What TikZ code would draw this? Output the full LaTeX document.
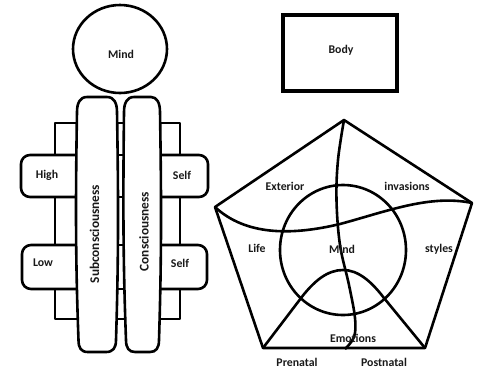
\documentclass[tikz,border=0pt]{standalone}
\usepackage{fontspec}
\setmainfont{Carlito}
\begin{document}
\begin{tikzpicture}[x=1pt,y=-1pt,
  ln/.style={line width=2.6pt,line join=round},
  lbl/.style={font=\bfseries\fontsize{11.8}{12}\selectfont,inner sep=0pt,text=black!90},
  vlbl/.style={font=\bfseries\fontsize{13.3}{14}\selectfont,inner sep=0pt,rotate=90,text=black!90}]
\useasboundingbox (0,0) rectangle (477,368);
% ---------- left figure ----------
\draw[ln] (120,49) ellipse [x radius=47,y radius=44];
\node[lbl] (mindtop) at (121,54) {Mind};
% background frame
\draw[ln] (55,123) rectangle (180,319);
\foreach \yy in {155,197,245,289} \draw[ln] (55,\yy) -- (180,\yy);
% side boxes
\draw[ln,fill=white,rounded corners=9pt] (90,155) -- (21,155) -- (21,197) -- (90,197);
\draw[ln,fill=white,rounded corners=9pt] (90,245) -- (22,245) -- (22,289) -- (90,289);
\draw[ln,fill=white,rounded corners=9pt] (150,155) -- (208,155) -- (208,197) -- (150,197);
\draw[ln,fill=white,rounded corners=9pt] (150,245) -- (207,245) -- (207,289) -- (150,289);
\node[lbl] (high) at (47,175) {High};
\node[lbl] (low) at (43,263) {Low};
\node[lbl] (self1) at (182,175) {Self};
\node[lbl] (self2) at (180,263) {Self};
% pillars
\draw[ln,fill=white] (87,97) -- (107,97) .. controls (114,97) and (117,103) .. (117,112)
  .. controls (118.5,200) and (118.5,260) .. (116,340) .. controls (116,348) and (113,352) .. (106,352)
  -- (88,352) .. controls (81,352) and (78.5,348) .. (78.5,340)
  .. controls (75.5,260) and (75.5,200) .. (77,112) .. controls (77,103) and (80,97) .. (87,97) -- cycle;
\draw[ln,fill=white] (134,97) -- (151,97) .. controls (157,97) and (160,103) .. (160,112)
  .. controls (161.5,200) and (161.5,260) .. (159,340) .. controls (159,348) and (156,352) .. (150,352)
  -- (135,352) .. controls (129,352) and (126,348) .. (126,340)
  .. controls (123,260) and (123,200) .. (124,112) .. controls (124,103) and (127,97) .. (134,97) -- cycle;
\node[vlbl] (subc) at (94.5,234) {Subconsciousness};
\node[vlbl] (cons) at (144,231.5) {Consciousness};
% ---------- body ----------
\draw[line width=3.4pt] (283,15) rectangle (397,91);
\node[lbl] (body) at (341,50) {Body};
% ---------- pentagon ----------
\coordinate (pt) at (344,120);
\coordinate (pr) at (472,203);
\coordinate (pbr) at (425,348);
\coordinate (pbl) at (263,348);
\coordinate (pl) at (215,207);
\draw[ln] (pt) -- (pr) -- (pbr) -- (pbl) -- (pl) -- cycle;
\draw[ln] (343,250) ellipse [x radius=63,y radius=65];
\draw[ln] (pl) .. controls (245,235) and (290,236) .. (340,224) .. controls (385,212) and (430,194) .. (pr);
\draw[ln] plot[smooth,tension=0.6] coordinates {(344,120) (338,160) (336.5,200) (340,245) (349,285) (355,318) (354,337) (345,349)};
\draw[ln] (pbl) -- (298,302) .. controls (314,280) and (328,270) .. (343,270) .. controls (358,270) and (371,281) .. (384,298) -- (pbr);
\node[lbl] (ext) at (285,186) {Exterior};
\node[lbl] (inv) at (407,186) {invasions};
\node[lbl] (life) at (257,248) {Life};
\node[lbl] (mind) at (342,249) {Mind};
\node[lbl] (sty) at (439,249) {styles};
\node[lbl] (emo) at (353,338) {Emotions};
\node[lbl] (pre) at (297,362) {Prenatal};
\node[lbl] (post) at (384,362) {Postnatal};
\end{tikzpicture}
\end{document}
